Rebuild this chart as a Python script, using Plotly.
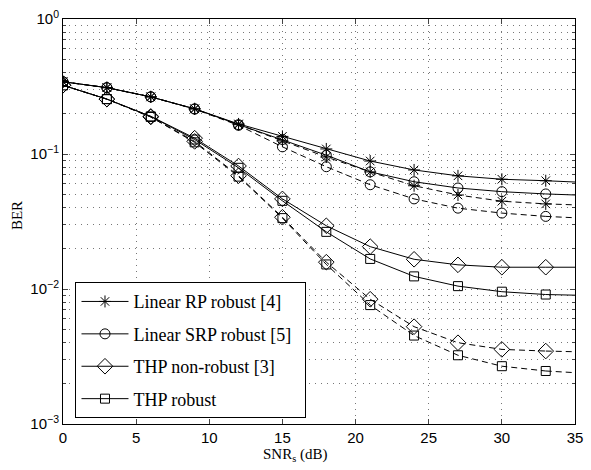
import plotly.graph_objects as go

# SNR grid (dB); last point (35) is the line end without marker
snr = [0, 3, 6, 9, 12, 15, 18, 21, 24, 27, 30, 33, 35]

# Solid curves
rp_solid = [0.343, 0.31, 0.265, 0.216, 0.167, 0.135, 0.109, 0.0887, 0.0762, 0.0689, 0.065, 0.0634, 0.062]
srp_solid = [0.343, 0.31, 0.265, 0.216, 0.165, 0.128, 0.098, 0.0737, 0.0623, 0.056, 0.0526, 0.0506, 0.0497]
thp_nr_solid = [0.323, 0.255, 0.19, 0.131, 0.0815, 0.0465, 0.0294, 0.0206, 0.0166, 0.0151, 0.0145, 0.0145, 0.0145]
thp_r_solid = [0.323, 0.255, 0.19, 0.128, 0.079, 0.045, 0.0265, 0.0167, 0.0124, 0.0105, 0.00955, 0.0091, 0.009]

# Dashed curves
rp_dash = [0.343, 0.31, 0.265, 0.216, 0.165, 0.125, 0.095, 0.0737, 0.0582, 0.0497, 0.0447, 0.0427, 0.042]
srp_dash = [0.343, 0.31, 0.265, 0.215, 0.163, 0.113, 0.0805, 0.0592, 0.0465, 0.0397, 0.0365, 0.0345, 0.0337]
thp_nr_dash = [0.323, 0.255, 0.188, 0.124, 0.069, 0.034, 0.0158, 0.0084, 0.00526, 0.0040, 0.00357, 0.00347, 0.00343]
thp_r_dash = [0.323, 0.255, 0.188, 0.122, 0.068, 0.0335, 0.0152, 0.0076, 0.00452, 0.00323, 0.00268, 0.00247, 0.0024]

names = ["Linear RP robust [4]", "Linear SRP robust [5]\u00a0\u00a0", "THP non-robust [3]", "THP robust"]
symbols = ["asterisk-open", "circle-open", "diamond-open", "square-open"]
sizes = [10, 10, 12, 9]

y_ticks = [1e-3, 1e-2, 1e-1, 1]
y_ticktext = ["10<sup>\u22123</sup>", "10<sup>\u22122</sup>", "10<sup>\u22121</sup>", "10<sup>0</sup>"]
x_ticks = [0, 5, 10, 15, 20, 25, 30, 35]

fig = go.Figure()

def add_curve(y, i, dash, legend):
    fig.add_trace(go.Scatter(
        x=snr[:12], y=y[:12], mode="lines+markers", name=names[i],
        line=dict(color="black", width=1, dash=dash),
        marker=dict(symbol=symbols[i], size=sizes[i], color="black",
                    line=dict(color="black", width=1)),
        showlegend=legend, legendgroup=names[i] if legend else None,
    ))
    fig.add_trace(go.Scatter(
        x=snr[11:], y=y[11:], mode="lines",
        line=dict(color="black", width=1, dash=dash),
        showlegend=False, hoverinfo="skip",
    ))

dash_pat = "6px,4px"
for i, y in enumerate([rp_dash, srp_dash, thp_nr_dash, thp_r_dash]):
    add_curve(y, i, dash_pat, False)
for i, y in enumerate([rp_solid, srp_solid, thp_nr_solid, thp_r_solid]):
    add_curve(y, i, "solid", True)

minor_vals = [m * 10.0 ** e for e in (-3, -2, -1) for m in range(2, 10)]
grid_kw = dict(showgrid=True, gridcolor="#777777", gridwidth=1, griddash="1px,5px")

fig.update_layout(
    width=591, height=470,
    margin=dict(l=63, r=8, t=15, b=46),
    paper_bgcolor="white", plot_bgcolor="white",
    font=dict(family="Liberation Sans, Arial, sans-serif", size=15, color="black"),
    showlegend=True,
    legend=dict(
        x=0.0244, y=0.35, xanchor="left", yanchor="top",
        bgcolor="white", bordercolor="black", borderwidth=1,
        font=dict(family="Liberation Serif, Times New Roman, serif", size=18),
        itemwidth=47, traceorder="grouped", tracegroupgap=6,
    ),
    xaxis=dict(
        range=[0, 35], tickvals=x_ticks, ticks="inside", ticklen=5,
        showline=True, linecolor="black", linewidth=1, mirror="ticks",
        zeroline=False, **grid_kw,
    ),
    yaxis=dict(
        type="log", range=[-3, 0], tickvals=y_ticks, ticktext=y_ticktext,
        ticks="inside", ticklen=5,
        showline=True, linecolor="black", linewidth=1, mirror="ticks",
        zeroline=False, **grid_kw,
        minor=dict(tickvals=minor_vals, ticks="inside", ticklen=3,
                   showgrid=True, gridcolor="#777777", gridwidth=1, griddash="1px,5px"),
    ),
    annotations=[
        dict(text="SNR<sub>s</sub> (dB)", x=0.455, y=-0.077, xref="paper", yref="paper",
             xanchor="center", yanchor="middle", showarrow=False,
             font=dict(family="Liberation Serif, Times New Roman, serif", size=15)),
        dict(text="BER", x=-0.0885, y=0.515, xref="paper", yref="paper", textangle=-90,
             xanchor="center", yanchor="middle", showarrow=False,
             font=dict(family="Liberation Serif, Times New Roman, serif", size=15)),
    ],
)

fig.write_html("out.html",
               config={"displayModeBar": False},
               post_script="document.body.style.margin='0';document.body.style.overflow='hidden';")
